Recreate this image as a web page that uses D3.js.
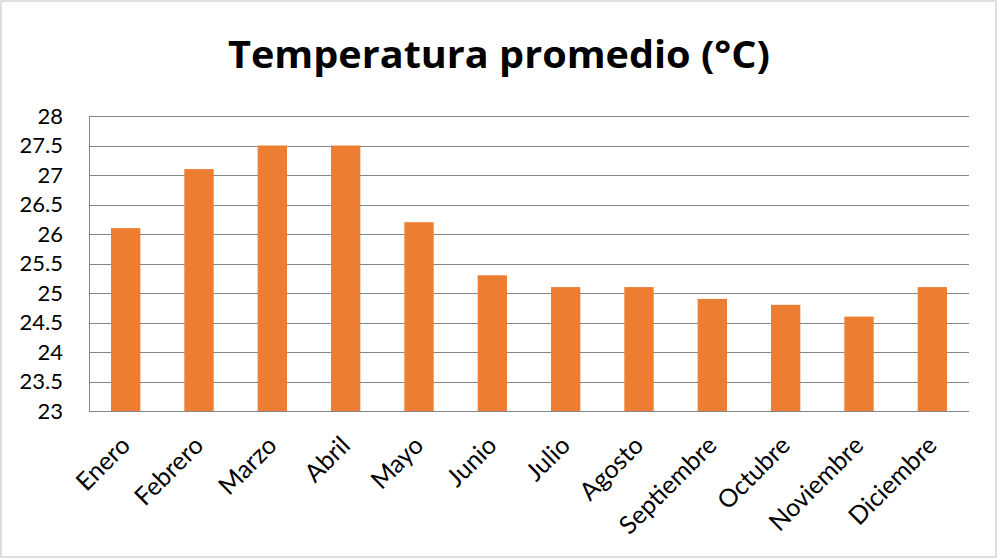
<!DOCTYPE html>
<html><head><meta charset="utf-8">
<script src="https://cdn.jsdelivr.net/npm/d3@7"></script>
<style>
html,body{margin:0;padding:0;background:#fff;}
svg{display:block;font-family:Lato, "Open Sans", sans-serif;}
</style></head>
<body><svg id="c" width="998" height="559"></svg>
<script>
const title = "Temperatura promedio (°C)";
const months = ["Enero","Febrero","Marzo","Abril","Mayo","Junio","Julio","Agosto","Septiembre","Octubre","Noviembre","Diciembre"];
const temps = [26.1,27.1,27.5,27.5,26.2,25.3,25.1,25.1,24.9,24.8,24.6,25.1];
const yTicks = [23,23.5,24,24.5,25,25.5,26,26.5,27,27.5,28];

const svg = d3.select("#c");
const W = 998, H = 559;
const m = {left:89, right:29, top:116, bottom:148};

svg.append("rect").attr("x",1).attr("y",1).attr("width",W-3).attr("height",H-3)
  .attr("fill","#fff").attr("stroke","#bfbfbf").attr("stroke-width",1);

const x = d3.scaleBand().domain(months).range([m.left, W-m.right]).paddingInner(0.6).paddingOuter(0.3);
const y = d3.scaleLinear().domain([23,28]).range([H-m.bottom, m.top]);

// gridlines
svg.append("g").selectAll("line").data(yTicks).join("line")
  .attr("x1",m.left).attr("x2",W-m.right)
  .attr("y1",d=>Math.round(y(d))+0.5).attr("y2",d=>Math.round(y(d))+0.5)
  .attr("stroke","#868686").attr("stroke-width",1);

// left axis line
svg.append("line").attr("x1",m.left+0.5).attr("x2",m.left+0.5)
  .attr("y1",y(28)).attr("y2",y(23)).attr("stroke","#868686");

// bars
svg.append("g").selectAll("rect").data(temps).join("rect")
  .attr("x",(d,i)=>x(months[i]))
  .attr("width",x.bandwidth())
  .attr("y",d=>y(d))
  .attr("height",d=>y(23)-y(d))
  .attr("fill","#ed7d31");

// y labels
const yAxis = d3.axisLeft(y).tickValues(yTicks).tickSize(0).tickPadding(10).tickFormat(d=>String(d));
const gy = svg.append("g").attr("transform",`translate(${m.left-16},0)`).call(yAxis);
gy.select(".domain").remove();
gy.selectAll("text").attr("font-size",22).attr("fill","#000").attr("font-family","Lato, sans-serif");

// x labels
svg.append("g").selectAll("text").data(months).join("text")
  .attr("transform",d=>`translate(${x(d)+x.bandwidth()/2+6},${y(23)+36}) rotate(-45)`)
  .attr("text-anchor","end")
  .attr("font-size",25)
  .attr("fill","#000")
  .text(d=>d);

// title
svg.append("text").attr("x",499).attr("y",68).attr("text-anchor","middle")
  .attr("font-family","'Open Sans', sans-serif")
  .attr("font-size",38).attr("font-weight","bold").attr("fill","#000")
  .attr("textLength",542).attr("lengthAdjust","spacingAndGlyphs")
  .text(title);
</script></body></html>
